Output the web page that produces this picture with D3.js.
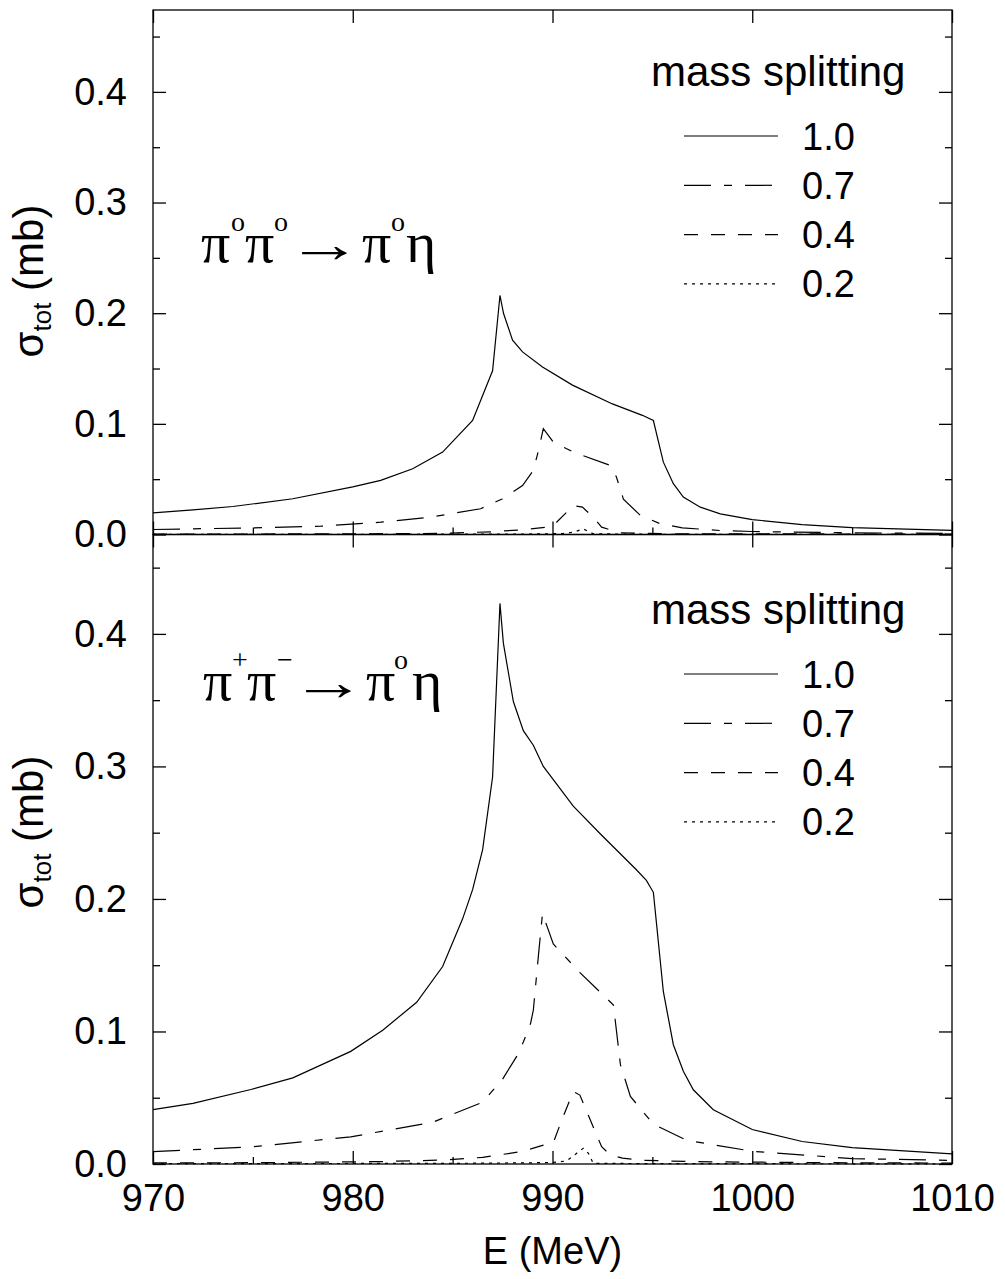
<!DOCTYPE html>
<html>
<head>
<meta charset="utf-8">
<script src="https://cdn.jsdelivr.net/npm/d3@7"></script>
<style>
  body { margin: 0; background: #fff; }
  svg text { font-family: "Liberation Sans", Arial, Helvetica, sans-serif; fill: #000; }
</style>
</head>
<body>
<svg id="chart" width="1005" height="1279"></svg>
<script>
// tick values
const eMajor = [970, 980, 990, 1000, 1010];
const eMinor = [975, 985, 995, 1005];
const sigmaMajor = [0, 0.1, 0.2, 0.3, 0.4];
const sigmaMinor = [0.05, 0.15, 0.25, 0.35, 0.45];
const splittings = ["1.0", "0.7", "0.4", "0.2"];

// pi0 pi0 -> pi0 eta, [E (MeV), sigma_tot (mb)]
const neutral10 = [[970,0.0196],[972,0.0222],[974,0.0253],[977,0.0323],[980,0.043],[981.4,0.0489],
  [983,0.0594],[984.5,0.0745],[986,0.103],[987,0.148],[987.37,0.216],[987.55,0.1997],[988,0.1756],
  [988.5,0.165],[989.5,0.1514],[991,0.135],[993,0.118],[994.5,0.1077],[995.05,0.103],[995.55,0.0654],
  [996.05,0.0459],[996.55,0.0338],[997.4,0.0247],[998.4,0.0187],[1000,0.0135],[1002.5,0.009],
  [1005,0.0063],[1010,0.0038]];
const neutral07 = [[970,0.0045],[975,0.006],[978.4,0.0075],[981.4,0.0111],[983.9,0.0157],[986.4,0.0233],
  [987.5,0.0323],[988.5,0.0443],[989.04,0.058],[989.3,0.076],[989.54,0.0956],[990.04,0.0836],
  [991.04,0.0745],[992.9,0.0624],[993.2,0.052],[993.55,0.032],[994.4,0.0172],[995.4,0.0097],
  [996.5,0.006],[998.4,0.0036],[1000,0.0027],[1005,0.0015],[1010,0.001]];
const neutral04 = [[970,0.0003],[980,0.0006],[984.5,0.001],[987,0.0025],[988.4,0.0042],[989.7,0.0066],
  [990.04,0.0081],[991.04,0.026],[991.5,0.0247],[992.04,0.0157],[992.46,0.0066],[993.4,0.0015],
  [996,0.0007],[1010,0.0003]];
const neutral02 = [[970,0.0001],[988,0.0003],[990.5,0.0008],[991.04,0.002],[991.54,0.0051],
  [992.04,0.0006],[995,0.0002],[1010,0.0001]];

// pi+ pi- -> pi0 eta
const charged10 = [[970,0.041],[972,0.0458],[974.9,0.0562],[977,0.065],[979.9,0.085],[981.5,0.101],
  [983.2,0.122],[984.5,0.149],[985.5,0.185],[986,0.207],[986.5,0.237],[987,0.292],[987.37,0.423],
  [987.54,0.393],[988.04,0.349],[988.54,0.327],[989.04,0.316],[989.54,0.3],[991.04,0.27],[992.4,0.249],
  [994.2,0.222],[994.7,0.214],[995.05,0.205],[995.55,0.13],[996.05,0.09],[996.55,0.07],[997.05,0.056],
  [998.05,0.041],[1000,0.026],[1002.5,0.017],[1005,0.0123],[1010,0.0077]];
const charged07 = [[970,0.0093],[975,0.013],[979.9,0.0205],[984,0.0315],[986.5,0.0466],[987.5,0.064],
  [988.2,0.081],[988.54,0.092],[988.9,0.106],[989.04,0.116],[989.3,0.158],[989.5,0.189],[990.04,0.166],
  [991.4,0.144],[993.05,0.12],[993.4,0.075],[993.9,0.051],[995.05,0.03],[996.7,0.018],[1000,0.0096],
  [1005,0.0041],[1010,0.0027]];
const charged04 = [[970,0.0008],[975,0.001],[981.4,0.0018],[984.5,0.003],[986.5,0.005],[988.5,0.0095],
  [989.5,0.014],[990.04,0.016],[990.46,0.033],[991.04,0.0546],[991.37,0.052],[992.04,0.028],
  [992.46,0.013],[992.9,0.0068],[993.5,0.0045],[994.5,0.0028],[997,0.0018],[1000,0.0014],
  [1005,0.0009],[1010,0.0007]];
const charged02 = [[970,0.0002],[985,0.0005],[989,0.0009],[990.04,0.0012],[990.7,0.0023],[991.2,0.008],
  [991.54,0.0118],[991.8,0.008],[992.04,0.0005],[995,0.0003],[1010,0.0001]];

const width = 1005, height = 1279;
const left = 153, right = 952;
const dashes = { "1.0": null, "0.7": "27,13,8,13", "0.4": "14,13", "0.2": "3,5" };

const panels = [
  { top: 10, bottom: 534.5, yMax: 0.474, series: [neutral10, neutral07, neutral04, neutral02],
    legendY: 86, titleY: 262, axisTitleY: 281, xLabels: false, arrowX: 287,
    lhs: [["π",201,0],["o",231,1],["π",245,0],["o",274,1]],
    rhs: [["π",362,0],["o",391,1],["η",406,0]] },
  { top: 534.5, bottom: 1164, yMax: 0.475, series: [charged10, charged07, charged04, charged02],
    legendY: 624, titleY: 700, axisTitleY: 832, xLabels: true, arrowX: 291,
    lhs: [["π",203,0],["+",232,1],["π",247,0],["−",277,1]],
    rhs: [["π",366,0],["o",394,1],["η",412,0]] }
];

const svg = d3.select("#chart");
svg.append("rect").attr("width", width).attr("height", height).attr("fill", "#fff");

const x = d3.scaleLinear().domain([970, 1010]).range([left, right]);

function styleAxis(g) {
  g.select(".domain").remove();
  g.selectAll(".tick line").attr("stroke", "#000").attr("stroke-width", 1.3);
  g.selectAll("text").attr("font-size", 38).attr("fill", "#000");
  g.attr("font-family", null).attr("font-size", null);
}

function particles(glyphs, baseY) {
  const t = svg.append("text").attr("y", baseY)
    .style("font-family", '"Liberation Serif", "Times New Roman", serif');
  glyphs.forEach(([ch, tx, sup]) => {
    t.append("tspan").attr("x", tx).attr("y", sup ? baseY - 31 : baseY)
      .attr("font-size", sup ? 28 : 58).text(ch);
  });
}

panels.forEach(p => {
  const y = d3.scaleLinear().domain([0, p.yMax]).range([p.bottom, p.top]);

  // axes (ticks point inward)
  svg.append("g").attr("transform", `translate(0,${p.bottom})`)
    .call(d3.axisBottom(x).tickValues(eMajor).tickSize(-13).tickPadding(20)
      .tickFormat(p.xLabels ? d3.format("d") : ""))
    .call(styleAxis);
  svg.append("g").attr("transform", `translate(0,${p.bottom})`)
    .call(d3.axisBottom(x).tickValues(eMinor).tickSize(-7).tickFormat(""))
    .call(styleAxis);
  svg.append("g").attr("transform", `translate(0,${p.top})`)
    .call(d3.axisTop(x).tickValues(eMajor).tickSize(-13).tickFormat(""))
    .call(styleAxis);
  svg.append("g").attr("transform", `translate(${left},0)`)
    .call(d3.axisLeft(y).tickValues(sigmaMajor).tickSize(-13).tickPadding(26).tickFormat(d3.format(".1f")))
    .call(styleAxis);
  svg.append("g").attr("transform", `translate(${left},0)`)
    .call(d3.axisLeft(y).tickValues(sigmaMinor).tickSize(-7).tickFormat(""))
    .call(styleAxis);
  svg.append("g").attr("transform", `translate(${right},0)`)
    .call(d3.axisRight(y).tickValues(sigmaMajor).tickSize(-13).tickFormat(""))
    .call(styleAxis);
  svg.append("g").attr("transform", `translate(${right},0)`)
    .call(d3.axisRight(y).tickValues(sigmaMinor).tickSize(-7).tickFormat(""))
    .call(styleAxis);

  // curves
  const line = d3.line().x(d => x(d[0])).y(d => y(d[1]));
  p.series.forEach((s, i) => {
    svg.append("path")
      .datum(s)
      .attr("d", line)
      .attr("fill", "none")
      .attr("stroke", "#000")
      .attr("stroke-width", 1.2)
      .attr("stroke-dasharray", dashes[splittings[i]]);
  });

  // frame
  svg.append("rect")
    .attr("x", left).attr("y", p.top)
    .attr("width", right - left).attr("height", p.bottom - p.top)
    .attr("fill", "none").attr("stroke", "#000").attr("stroke-width", 1.3);

  // legend
  svg.append("text").attr("x", 651).attr("y", p.legendY).attr("font-size", 42).text("mass splitting");
  splittings.forEach((s, i) => {
    const ly = p.legendY + 50 + i * 49.3;
    svg.append("line").attr("x1", 684).attr("x2", 778).attr("y1", ly).attr("y2", ly)
      .attr("stroke", "#000").attr("stroke-width", 1.2).attr("stroke-dasharray", dashes[s]);
    svg.append("text").attr("x", 802).attr("y", ly + 13.5).attr("font-size", 38).text(s);
  });

  // reaction label: lhs, a stretched thin arrow, rhs
  particles(p.lhs, p.titleY);
  svg.append("text")
    .attr("transform", `translate(${p.arrowX},${p.titleY}) scale(1.45,1)`)
    .attr("font-size", 52)
    .text("→");
  particles(p.rhs, p.titleY);

  // y axis title
  const yt = svg.append("text")
    .attr("transform", `translate(43,${p.axisTitleY}) rotate(-90)`)
    .attr("text-anchor", "middle")
    .attr("font-size", 42);
  yt.append("tspan").text("σ");
  yt.append("tspan").attr("font-size", 26).attr("dy", 8).text("tot");
  yt.append("tspan").attr("dy", -8).text(" (mb)");
});

svg.append("text")
  .attr("x", (left + right) / 2).attr("y", 1264)
  .attr("text-anchor", "middle").attr("font-size", 38)
  .text("E (MeV)");
</script>
</body>
</html>
